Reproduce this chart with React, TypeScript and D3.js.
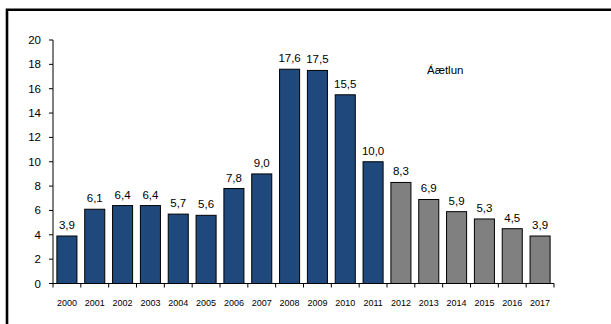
import React, { useEffect } from "react";
import * as d3 from "d3";

const years = ["2000","2001","2002","2003","2004","2005","2006","2007","2008","2009","2010","2011","2012","2013","2014","2015","2016","2017"];
const values = [3.9,6.1,6.4,6.4,5.7,5.6,7.8,9.0,17.6,17.5,15.5,10.0,8.3,6.9,5.9,5.3,4.5,3.9];
const isPlan = [false,false,false,false,false,false,false,false,false,false,false,false,true,true,true,true,true,true];
const yTicks = [0,2,4,6,8,10,12,14,16,18,20];
const planLabel = "Áætlun";

export default function App() {
  const W = 611, H = 324;
  useEffect(() => {
    document.body.style.margin = "0";
    document.body.style.overflow = "hidden";
    document.documentElement.style.overflow = "hidden";
  }, []);
  const x = d3.scaleBand<string>().domain(years).range([53, 554]).paddingInner(0.28).paddingOuter(0.14);
  const y = d3.scaleLinear().domain([0, 20]).range([283.5, 40]);
  const step = x.step();
  const font = "Liberation Sans, Arial, sans-serif";
  const fmt = (v: number) => v.toFixed(1).replace(".", ",");
  return (
    <svg width={W} height={H} style={{ display: "block" }} fontFamily={font}>
      <rect x={0} y={0} width={W} height={H} fill="#fff" />
      <path d={`M7,${H + 5} L7,9.8 L${W + 5},9.8`} fill="none" stroke="#000" strokeWidth={2.6} />
      {values.map((v, i) => (
        <rect key={i} x={x(years[i])} y={y(v)} width={x.bandwidth()} height={y(0) - y(v)}
          fill={isPlan[i] ? "#808080" : "#1F497D"} stroke="#000" strokeWidth={1} />
      ))}
      {values.map((v, i) => (
        <text key={"l" + i} x={(x(years[i]) as number) + x.bandwidth() / 2} y={y(v) - 7} fontSize={11.5}
          textAnchor="middle" fill="#000">{fmt(v)}</text>
      ))}
      <line x1={53} x2={53} y1={y(20)} y2={y(0)} stroke="#000" strokeWidth={1} />
      {yTicks.map(t => (
        <g key={"y" + t}>
          <line x1={49} x2={53} y1={y(t)} y2={y(t)} stroke="#000" />
          <text x={41} y={y(t) + 4} fontSize={11.5} textAnchor="end" fill="#000">{t}</text>
        </g>
      ))}
      <line x1={53} x2={554} y1={y(0)} y2={y(0)} stroke="#000" strokeWidth={1} />
      {d3.range(years.length + 1).map(i => (
        <line key={"xt" + i} x1={53 + i * step} x2={53 + i * step} y1={y(0)} y2={y(0) + 4} stroke="#000" />
      ))}
      {years.map(yr => (
        <text key={"x" + yr} x={(x(yr) as number) + x.bandwidth() / 2} y={306} fontSize={9} textAnchor="middle" fill="#000">{yr}</text>
      ))}
      <text x={427} y={74} fontSize={11.5} fill="#000">{planLabel}</text>
    </svg>
  );
}
